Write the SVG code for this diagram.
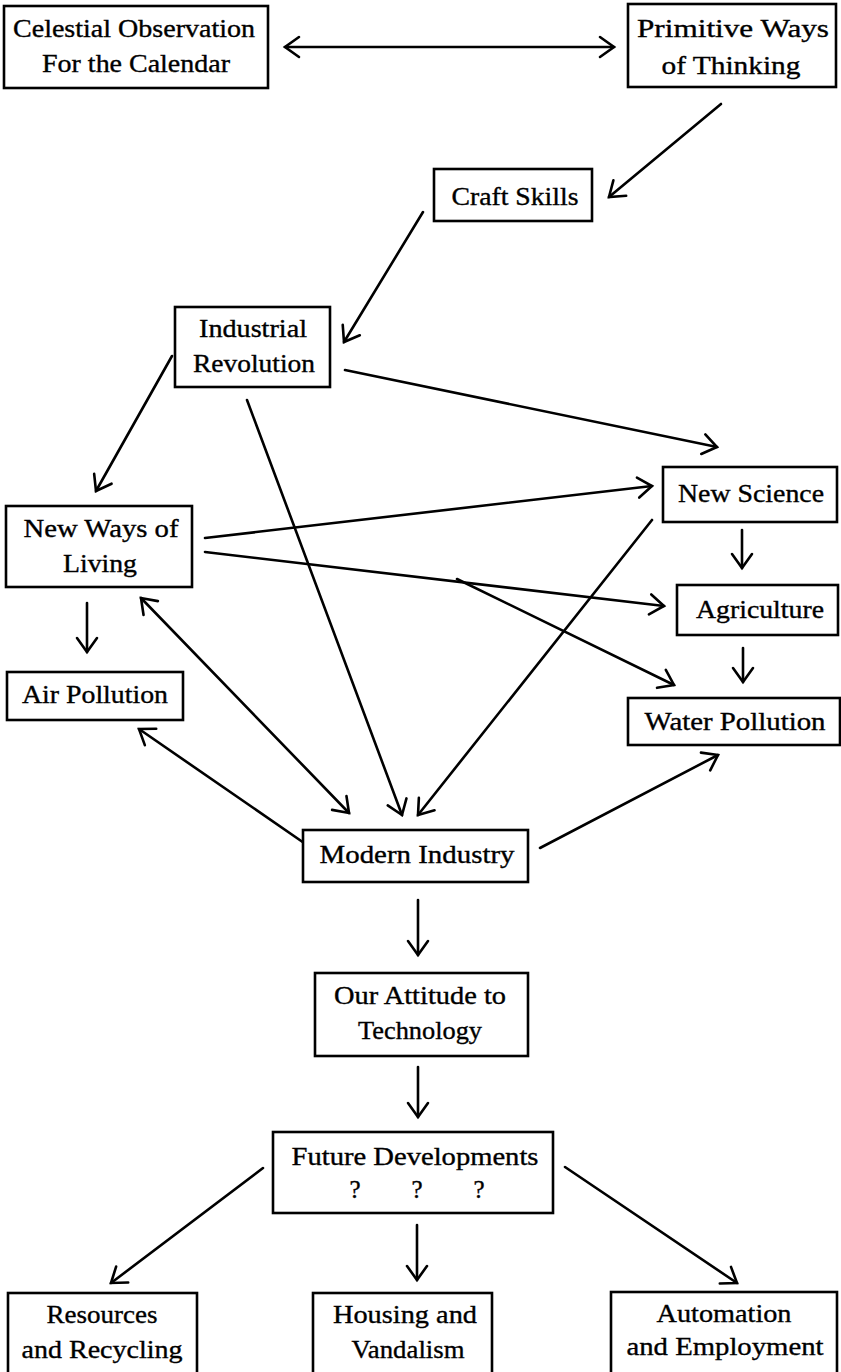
<svg xmlns="http://www.w3.org/2000/svg" width="841" height="1372" viewBox="0 0 841 1372">
  <style>
    .box { fill: #fff; stroke: #000; stroke-width: 2.6; }
    .lbl { font-family: "Liberation Serif", "Times New Roman", serif; font-size: 25px; fill: #000; stroke: #000; stroke-width: 0.35; text-anchor: middle; }
    .edge { fill: none; stroke: #000; stroke-width: 2.6; stroke-linecap: round; }
    .one { marker-end: url(#head); }
    .two { marker-start: url(#head); marker-end: url(#head); }
  </style>
  <defs>
    <marker id="head" markerUnits="userSpaceOnUse" viewBox="-16 -12 20 24" refX="0" refY="0" markerWidth="20" markerHeight="24" orient="auto-start-reverse">
      <path d="M -14 -10 L 0 0 L -14 10" fill="none" stroke="#000" stroke-width="2.6" stroke-linecap="round" stroke-linejoin="miter"/>
    </marker>
  </defs>
  <rect width="841" height="1372" fill="#fff"/>

  <!-- connectors -->
  <g id="connectors">
    <line class="edge two" x1="285" y1="47" x2="614" y2="47"/>
    <line class="edge one" x1="721" y1="104" x2="609" y2="197"/>
    <line class="edge one" x1="423" y1="212" x2="344" y2="342"/>
    <line class="edge one" x1="172" y1="356" x2="96" y2="491"/>
    <line class="edge one" x1="345" y1="370" x2="717" y2="447"/>
    <line class="edge one" x1="247" y1="400" x2="402" y2="815"/>
    <line class="edge one" x1="205" y1="538" x2="652" y2="486"/>
    <line class="edge one" x1="205" y1="552" x2="664" y2="606"/>
    <line class="edge one" x1="457" y1="579" x2="674" y2="685"/>
    <line class="edge one" x1="87" y1="603" x2="87" y2="652"/>
    <line class="edge two" x1="141" y1="598" x2="349" y2="813"/>
    <line class="edge one" x1="307" y1="845" x2="139" y2="729"/>
    <line class="edge one" x1="652" y1="520" x2="418" y2="815"/>
    <line class="edge one" x1="742" y1="530" x2="742" y2="568"/>
    <line class="edge one" x1="743" y1="648" x2="743" y2="682"/>
    <line class="edge one" x1="540" y1="848" x2="718" y2="755"/>
    <line class="edge one" x1="418" y1="900" x2="418" y2="955"/>
    <line class="edge one" x1="418" y1="1067" x2="418" y2="1117"/>
    <line class="edge one" x1="263" y1="1168" x2="111" y2="1283"/>
    <line class="edge one" x1="417" y1="1225" x2="417" y2="1280"/>
    <line class="edge one" x1="565" y1="1167" x2="737" y2="1283"/>
  </g>

  <!-- nodes -->
  <g id="celestial">
    <rect class="box" x="4" y="6" width="264" height="82"/>
    <text class="lbl" x="134" y="37" textLength="242" lengthAdjust="spacingAndGlyphs">Celestial Observation</text>
    <text class="lbl" x="136" y="72" textLength="188" lengthAdjust="spacingAndGlyphs">For the Calendar</text>
  </g>
  <g id="primitive">
    <rect class="box" x="628" y="4" width="208" height="83"/>
    <text class="lbl" x="733" y="37" textLength="192" lengthAdjust="spacingAndGlyphs">Primitive Ways</text>
    <text class="lbl" x="731" y="74" textLength="139" lengthAdjust="spacingAndGlyphs">of Thinking</text>
  </g>
  <g id="craft">
    <rect class="box" x="434" y="169" width="158" height="52"/>
    <text class="lbl" x="515" y="205" textLength="127" lengthAdjust="spacingAndGlyphs">Craft Skills</text>
  </g>
  <g id="industrial">
    <rect class="box" x="175" y="307" width="155" height="80"/>
    <text class="lbl" x="253" y="337" textLength="108" lengthAdjust="spacingAndGlyphs">Industrial</text>
    <text class="lbl" x="254" y="372" textLength="122" lengthAdjust="spacingAndGlyphs">Revolution</text>
  </g>
  <g id="newways">
    <rect class="box" x="6" y="506" width="186" height="81"/>
    <text class="lbl" x="101" y="537" textLength="155" lengthAdjust="spacingAndGlyphs">New Ways of</text>
    <text class="lbl" x="100" y="572" textLength="74" lengthAdjust="spacingAndGlyphs">Living</text>
  </g>
  <g id="air">
    <rect class="box" x="7" y="672" width="176" height="48"/>
    <text class="lbl" x="95" y="703" textLength="146" lengthAdjust="spacingAndGlyphs">Air Pollution</text>
  </g>
  <g id="science">
    <rect class="box" x="663" y="467" width="174" height="55"/>
    <text class="lbl" x="751" y="502" textLength="146" lengthAdjust="spacingAndGlyphs">New Science</text>
  </g>
  <g id="agriculture">
    <rect class="box" x="677" y="585" width="161" height="50"/>
    <text class="lbl" x="760" y="618" textLength="128" lengthAdjust="spacingAndGlyphs">Agriculture</text>
  </g>
  <g id="water">
    <rect class="box" x="628" y="698" width="212" height="47"/>
    <text class="lbl" x="735" y="730" textLength="181" lengthAdjust="spacingAndGlyphs">Water Pollution</text>
  </g>
  <g id="modern">
    <rect class="box" x="303" y="830" width="225" height="52"/>
    <text class="lbl" x="417" y="863" textLength="195" lengthAdjust="spacingAndGlyphs">Modern Industry</text>
  </g>
  <g id="attitude">
    <rect class="box" x="315" y="973" width="213" height="83"/>
    <text class="lbl" x="420" y="1004" textLength="172" lengthAdjust="spacingAndGlyphs">Our Attitude to</text>
    <text class="lbl" x="420" y="1039" textLength="124" lengthAdjust="spacingAndGlyphs">Technology</text>
  </g>
  <g id="future">
    <rect class="box" x="273" y="1132" width="280" height="81"/>
    <text class="lbl" x="415" y="1165" textLength="247" lengthAdjust="spacingAndGlyphs">Future Developments</text>
    <text class="lbl" x="355" y="1198">?</text>
    <text class="lbl" x="417" y="1198">?</text>
    <text class="lbl" x="479" y="1198">?</text>
  </g>
  <g id="resources">
    <rect class="box" x="8" y="1293" width="189" height="100"/>
    <text class="lbl" x="102" y="1323" textLength="111" lengthAdjust="spacingAndGlyphs">Resources</text>
    <text class="lbl" x="102" y="1358" textLength="161" lengthAdjust="spacingAndGlyphs">and Recycling</text>
  </g>
  <g id="housing">
    <rect class="box" x="313" y="1293" width="179" height="100"/>
    <text class="lbl" x="405" y="1323" textLength="144" lengthAdjust="spacingAndGlyphs">Housing and</text>
    <text class="lbl" x="408" y="1358" textLength="113" lengthAdjust="spacingAndGlyphs">Vandalism</text>
  </g>
  <g id="automation">
    <rect class="box" x="611" y="1292" width="226" height="100"/>
    <text class="lbl" x="724" y="1322" textLength="135" lengthAdjust="spacingAndGlyphs">Automation</text>
    <text class="lbl" x="725" y="1355" textLength="197" lengthAdjust="spacingAndGlyphs">and Employment</text>
  </g>
</svg>
